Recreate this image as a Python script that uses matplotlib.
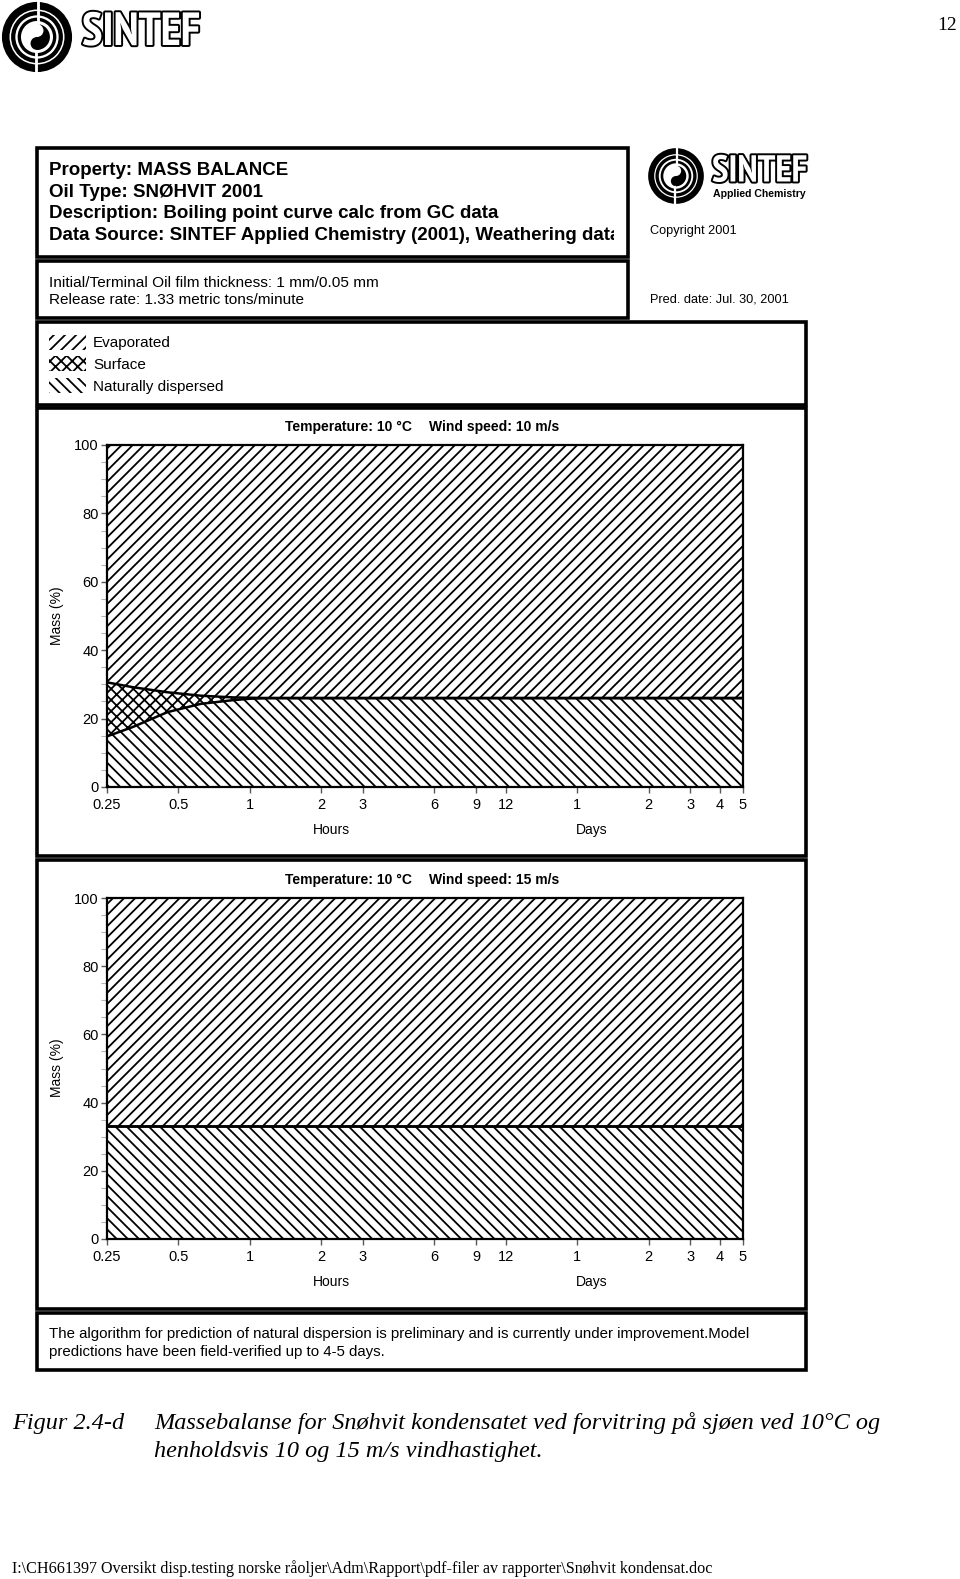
import matplotlib
matplotlib.use("Agg")
import matplotlib.pyplot as plt
from matplotlib.patches import Rectangle, Circle, Wedge
from matplotlib import font_manager
import matplotlib.patheffects as pe

plt.rcParams['font.family'] = ['Liberation Sans', 'DejaVu Sans']
plt.rcParams['hatch.linewidth'] = 1.3
plt.rcParams['hatch.color'] = 'black'

# ---- data ----
tick_hours = [0.25, 0.5, 1, 2, 3, 6, 9, 12, 24, 48, 72, 96, 120]
tick_labels = ['0.25', '0.5', '1', '2', '3', '6', '9', '12', '1', '2', '3', '4', '5']

# wind 10 m/s
hours_10 = [0.25, 0.32, 0.45, 0.62, 0.85, 1.0, 1.2, 2, 3, 6, 12, 24, 48, 72, 96, 120]
dispersed_10 = [14.8, 17.5, 21.9, 24.3, 25.4, 25.8, 26.0, 26.0, 26.0, 26.0, 26.0, 26.0, 26.0, 26.0, 26.0, 26.0]
surface_10 = [15.8, 11.7, 5.8, 2.4, 0.8, 0.3, 0.0, 0.0, 0.0, 0.0, 0.0, 0.0, 0.0, 0.0, 0.0, 0.0]

# wind 15 m/s
hours_15 = [0.25, 1, 12, 120]
dispersed_15 = [33.0, 33.0, 33.0, 33.0]
surface_15 = [0.0, 0.0, 0.0, 0.0]

header_lines = ['Property: MASS BALANCE',
                'Oil Type: SNØHVIT 2001',
                'Description: Boiling point curve calc from GC data',
                'Data Source: SINTEF Applied Chemistry (2001), Weathering data']
param_lines = ['Initial/Terminal Oil film thickness: 1 mm/0.05 mm',
               'Release rate: 1.33 metric tons/minute']
legend_labels = ['Evaporated', 'Surface', 'Naturally dispersed']
legend_hatches = ['///', 'xxx', '\\\\\\']
note_lines = ['The algorithm for prediction of natural dispersion is preliminary and is currently under improvement.Model',
              'predictions have been field-verified up to 4-5 days.']

W, H = 960, 1579


def condensed_bold():
    fonts = font_manager.fontManager.ttflist
    for key in ('narrow', 'condensed'):
        for f in fonts:
            n = (f.name + ' ' + str(f.stretch) + ' ' + f.fname).lower()
            if key in n and f.weight in ('bold', 700):
                return font_manager.FontProperties(fname=f.fname)
    return font_manager.FontProperties(family='Liberation Sans', weight='bold')


fig = plt.figure(figsize=(W / 100, H / 100), dpi=100)
page = fig.add_axes([0, 0, 1, 1])
page.set_xlim(0, W)
page.set_ylim(H, 0)
page.axis('off')


def box(x0, y0, x1, y1):
    r = Rectangle((x0, y0), x1 - x0, y1 - y0, fill=False, lw=2.6, ec='black')
    page.add_patch(r)
    return r


def logo(cx, cy, r, text_x, text_y, text_size, sub=None):
    page.add_patch(Circle((cx, cy), r * 0.92, fill=False, lw=r * 0.16, ec='black'))
    page.add_patch(Circle((cx, cy), r * 0.70, fill=False, lw=r * 0.09, ec='black'))
    page.add_patch(Circle((cx, cy), r * 0.52, fill=False, lw=r * 0.07, ec='black'))
    # yin-yang like centre
    R = r * 0.38
    page.add_patch(Wedge((cx, cy), R, -90, 90, fc='black', ec='none'))
    page.add_patch(Circle((cx, cy - R / 2), R / 2, fc='white', ec='none'))
    page.add_patch(Circle((cx, cy + R / 2), R / 2, fc='black', ec='none'))
    page.plot([cx + r * 0.03, cx + r * 0.03], [cy - r * 1.05, cy - r * 0.42], color='white', lw=r * 0.06)
    page.plot([cx - r * 0.03, cx - r * 0.03], [cy + r * 0.42, cy + r * 1.05], color='white', lw=r * 0.06)
    fp = condensed_bold()
    fp.set_size(text_size)
    t = page.text(text_x, text_y, 'SINTEF', fontproperties=fp, color='white',
                  ha='left', va='center')
    t.set_path_effects([pe.Stroke(linewidth=2.8, foreground='black'), pe.Normal()])
    if sub:
        page.text(text_x + 1, text_y + 22, sub, fontsize=7.6, fontweight='bold', ha='left', va='center')


# page furniture
logo(37, 37, 34, 82, 33, 33.5)
page.text(947, 26, '12', family='Liberation Serif', fontsize=14, ha='center', va='center')

# header boxes
box(37, 148, 628, 257)
clip = Rectangle((37, 148), 577, 109, fill=False, lw=0)
page.add_patch(clip)
for i, s in enumerate(header_lines):
    t = page.text(49, 170.5 + 21.6 * i, s, fontsize=13.5, fontweight='bold', ha='left', va='center',
                  clip_on=True)
    t.set_clip_path(clip)
box(37, 261, 628, 318)
for i, s in enumerate(param_lines):
    page.text(49, 283 + 17 * i, s, fontsize=11.1, ha='left', va='center')

logo(676, 176, 27, 712, 172, 27, sub='Applied Chemistry')
page.text(650, 231, 'Copyright 2001', fontsize=9.2, ha='left', va='center')
page.text(650, 300, 'Pred. date: Jul. 30, 2001', fontsize=9.2, ha='left', va='center')

# legend
box(37, 322, 806, 405)
for i, (lab, h) in enumerate(zip(legend_labels, legend_hatches)):
    yc = 342 + 21.6 * i
    page.add_patch(Rectangle((49, yc - 7.5), 37, 15, fc='white', ec='black', lw=0, hatch=h))
    page.text(93, yc + 1.5, lab, fontsize=11, ha='left', va='center')


def chart(top, bottom, hours, dispersed, surface, wind):
    upper = [d + s for d, s in zip(dispersed, surface)]
    ax = fig.add_axes([107 / W, 1 - bottom / H, (743 - 107) / W, (bottom - top) / H])
    ax.fill_between(hours, 0, dispersed, facecolor='white', edgecolor='black', hatch='\\\\\\', lw=0)
    ax.fill_between(hours, dispersed, upper, facecolor='white', edgecolor='black', hatch='xxx', lw=0)
    ax.fill_between(hours, upper, 100, facecolor='white', edgecolor='black', hatch='///', lw=0)
    ax.plot(hours, dispersed, color='black', lw=1.8)
    ax.plot(hours, upper, color='black', lw=1.8)
    ax.set_xscale('log')
    ax.set_xlim(0.25, 120)
    ax.set_ylim(0, 100)
    ax.set_xticks(tick_hours, tick_labels)
    ax.xaxis.set_minor_locator(plt.NullLocator())
    ax.set_yticks([0, 20, 40, 60, 80, 100])
    ax.set_yticks(range(0, 101, 5), minor=True)
    ax.tick_params(axis='both', which='major', labelsize=10.5, length=4, width=1, color='0.35')
    ax.tick_params(axis='x', pad=4)
    ax.tick_params(axis='y', pad=2)
    ax.tick_params(axis='y', which='minor', length=4, width=0.8, color='0.7')
    for sp in ax.spines.values():
        sp.set_linewidth(1.6)
    # labels around the plot
    page.text(285, top - 18, 'Temperature: 10 °C', fontsize=10, fontweight='bold', ha='left', va='center')
    page.text(429, top - 18, 'Wind speed: %d m/s' % wind, fontsize=10, fontweight='bold', ha='left', va='center')
    page.text(57.5, (top + bottom) / 2 - 0.5, 'Mass (%)', fontsize=10, rotation=90, ha='center', va='center')
    page.text(331, bottom + 43, 'Hours', fontsize=10, ha='center', va='center')
    page.text(592, bottom + 43, 'Days', fontsize=10, ha='center', va='center')
    return ax


box(37, 408, 806, 856)
chart(445, 787, hours_10, dispersed_10, surface_10, 10)
box(37, 860, 806, 1309)
chart(898, 1239, hours_15, dispersed_15, surface_15, 15)

# note
box(37, 1313, 806, 1370)
for i, s in enumerate(note_lines):
    page.text(49, 1334 + 18 * i, s, fontsize=10.85, ha='left', va='center')

# caption and footer
page.text(12, 1423, 'Figur 2.4-d', family='Liberation Serif', style='italic', fontsize=17.5,
          ha='left', va='center')
page.text(154, 1423, 'Massebalanse for Snøhvit kondensatet ved forvitring på sjøen ved 10°C og',
          family='Liberation Serif', style='italic', fontsize=17.5, ha='left', va='center')
page.text(154, 1451, 'henholdsvis 10 og 15 m/s vindhastighet.',
          family='Liberation Serif', style='italic', fontsize=17.5, ha='left', va='center')
page.text(12, 1569, 'I:\\CH661397 Oversikt disp.testing norske råoljer\\Adm\\Rapport\\pdf-filer av rapporter\\Snøhvit kondensat.doc',
          family='Liberation Serif', fontsize=11.6, ha='left', va='center')

fig.savefig('out.png', dpi=100)
